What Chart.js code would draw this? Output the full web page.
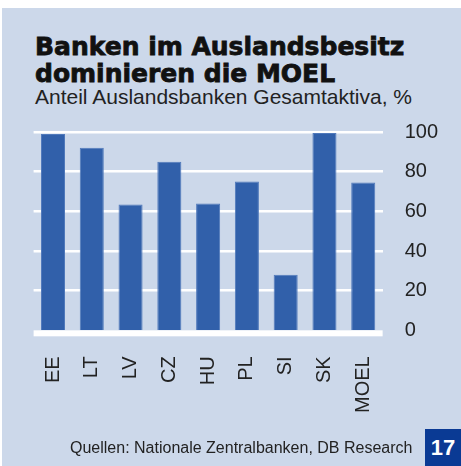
<!DOCTYPE html>
<html>
<head>
<meta charset="utf-8">
<script src="https://cdn.jsdelivr.net/npm/chart.js@4/dist/chart.umd.min.js"></script>
<style>
  html, body { margin: 0; padding: 0; background: #ffffff; }
  body { width: 461px; height: 466px; position: relative; overflow: hidden; }
  #panel { position: absolute; left: 2px; top: 8px; width: 459px; height: 458px; background: #ccd8ea; }
  #chart { position: absolute; left: 0; top: 0; }
  .title { position: absolute; left: 35px; top: 33px; font-family: "DejaVu Sans", sans-serif; font-weight: bold;
           font-size: 25px; line-height: 27px; color: #111; white-space: nowrap; -webkit-text-stroke: 0.8px #111; }
  .subtitle { position: absolute; left: 35px; top: 85px; font-family: "Liberation Sans", Arial, sans-serif;
              font-size: 21px; line-height: 24px; color: #222; white-space: nowrap; }
  .source { position: absolute; left: 70px; top: 439px; font-family: "Liberation Sans", Arial, sans-serif;
            font-size: 16px; line-height: 18px; color: #222; white-space: nowrap; }
  .pagebox { position: absolute; left: 425px; top: 429px; width: 36px; height: 37px; background: #0a3a94;
             color: #fff; font-family: "Liberation Sans", Arial, sans-serif; font-weight: bold; font-size: 22px;
             line-height: 37px; text-align: center; }
</style>
</head>
<body>
<div id="panel"></div>
<div class="title">Banken im Auslandsbesitz<br>dominieren die MOEL</div>
<div class="subtitle">Anteil Auslandsbanken Gesamtaktiva, %</div>
<canvas id="chart" width="461" height="466"></canvas>
<div class="source">Quellen: Nationale Zentralbanken, DB Research</div>
<div class="pagebox">17</div>
<script>
const categories = ['EE', 'LT', 'LV', 'CZ', 'HU', 'PL', 'SI', 'SK', 'MOEL'];
const shareForeignBanks = [99, 92, 63.5, 85, 64, 75, 28, 99.5, 74.5];
const yTickValues = [0, 20, 40, 60, 80, 100];

Chart.defaults.font.family = '"Liberation Sans", Arial, sans-serif';
Chart.defaults.color = '#222';

const baselinePlugin = {
  id: 'baseline',
  afterDatasetsDraw(chart) {
    const { ctx, chartArea } = chart;
    ctx.save();
    ctx.fillStyle = '#ffffff';
    ctx.fillRect(chartArea.left, chartArea.bottom, chartArea.right - chartArea.left, 6);
    ctx.restore();
  }
};

new Chart(document.getElementById('chart'), {
  type: 'bar',
  data: {
    labels: categories,
    datasets: [{
      data: shareForeignBanks,
      backgroundColor: '#3160aa',
      borderColor: '#5079bb',
      borderWidth: 1,
      barPercentage: 0.62,
      categoryPercentage: 1
    }]
  },
  options: {
    responsive: false,
    animation: false,
    devicePixelRatio: 1,
    layout: { padding: { left: 33.6, top: 132, right: 1, bottom: 27 } },
    plugins: { legend: { display: false }, tooltip: { enabled: false }, title: { display: false } },
    scales: {
      x: {
        grid: { display: false, drawTicks: false },
        border: { display: false },
        ticks: { minRotation: 90, maxRotation: 90, autoSkip: false, padding: 26, font: { size: 20 }, color: '#222' }
      },
      y: {
        position: 'right',
        min: 0, max: 100,
        afterBuildTicks: (scale) => { scale.ticks = yTickValues.map(v => ({ value: v })); },
        grid: {
          color: '#ffffff',
          lineWidth: (c) => (c.tick && c.tick.value === 0 ? 0 : 2.5),
          drawTicks: false
        },
        border: { display: false },
        ticks: { padding: 22, font: { size: 20 }, color: '#222' }
      }
    }
  },
  plugins: [baselinePlugin]
});
</script>
</body>
</html>
